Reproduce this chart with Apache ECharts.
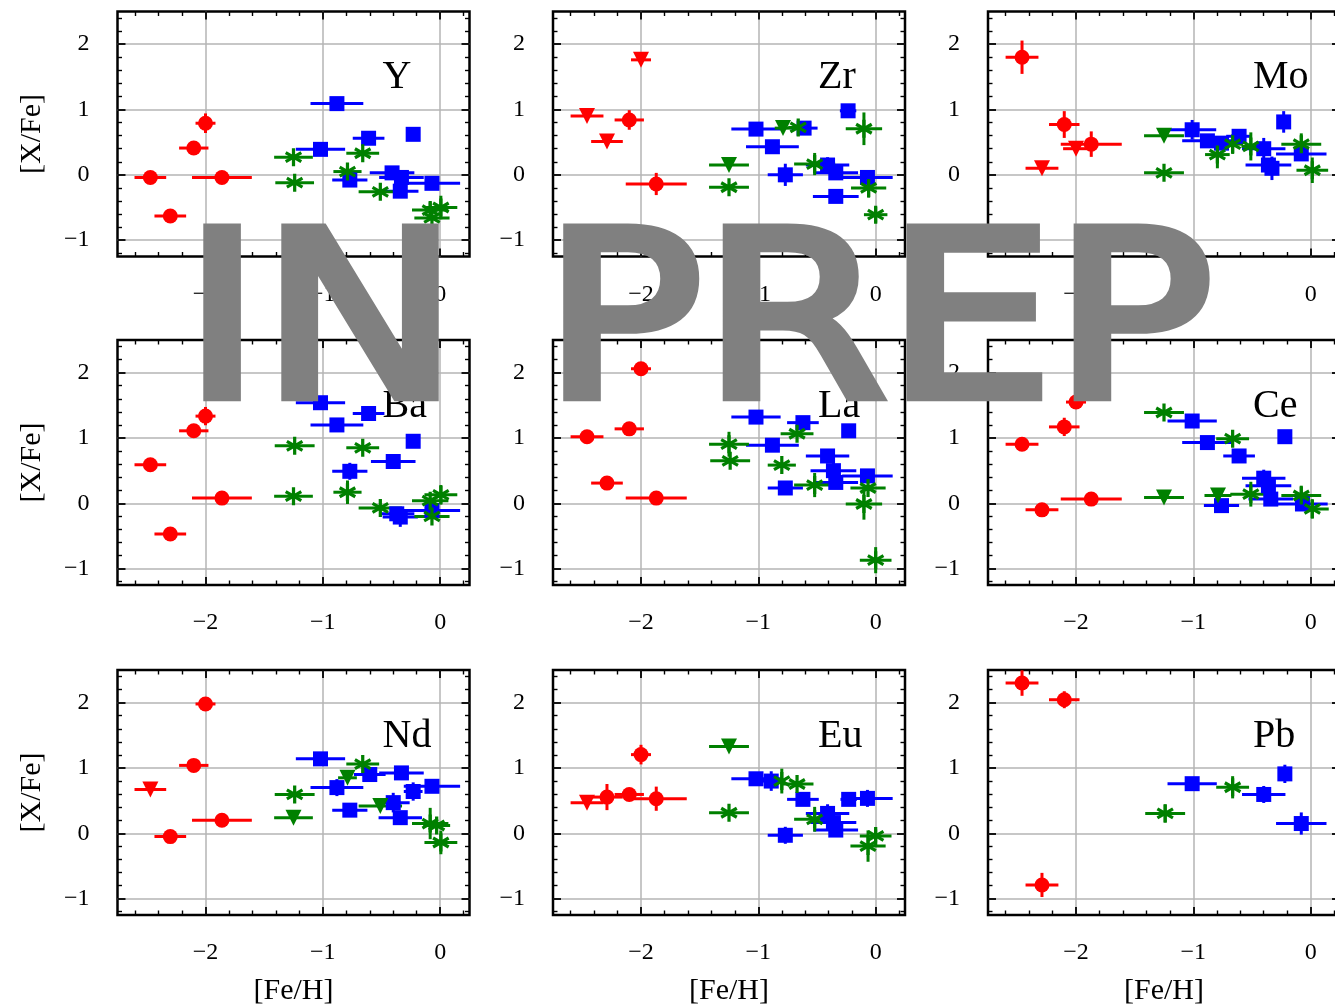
<!DOCTYPE html>
<html><head><meta charset="utf-8">
<script src="https://cdn.jsdelivr.net/npm/echarts@6/dist/echarts.min.js"></script>
<style>html,body{margin:0;padding:0;background:#fff}#c{width:1335px;height:1007px}</style>
</head><body><div id="c"></div>
<script>
// each point: [ [Fe/H], [X/Fe], err[Fe/H], err[X/Fe] ]
const Y_red = [[-2.47,-0.04,0.135,0],[-2.30,-0.63,0.135,0],[-2.10,0.41,0.125,0],[-2.00,0.79,0.085,0.15],[-1.86,-0.04,0.255,0]];
const Y_blue = [[-0.88,1.09,0.225,0],[-1.02,0.39,0.21,0],[-0.61,0.56,0.135,0],[-0.23,0.62,0.04,0],[-0.77,-0.08,0.15,0],[-0.41,0.03,0.19,0],[-0.33,-0.04,0.19,0],[-0.34,-0.25,0.155,0],[-0.07,-0.13,0.24,0]];
const Y_green = [[-1.25,0.27,0.165,0],[-1.24,-0.12,0.165,0],[-0.66,0.33,0.14,0],[-0.79,0.05,0.12,0],[-0.51,-0.26,0.185,0],[-0.085,-0.54,0.155,0.12],[0.006,-0.50,0.14,0.18],[-0.07,-0.66,0.15,0]];

const Zr_red = [[-2.10,0.84,0.125,0.15],[-1.87,-0.14,0.26,0.17]];
const Zr_redTri = [[-2.00,1.76,0.085,0],[-2.46,0.90,0.14,0],[-2.29,0.51,0.135,0]];
const Zr_blue = [[-0.235,0.98,0.07,0],[-1.02,0.70,0.21,0],[-0.88,0.43,0.225,0],[-0.61,0.715,0.115,0],[-0.77,0.0,0.15,0.17],[-0.41,0.15,0.185,0.12],[-0.34,0.03,0.19,0],[-0.07,-0.04,0.215,0],[-0.34,-0.33,0.195,0]];
const Zr_green = [[-1.25,-0.19,0.17,0],[-0.66,0.725,0.085,0],[-0.52,0.165,0.175,0.17],[-0.10,0.705,0.155,0.25],[-0.06,-0.20,0.15,0.15],[0.0,-0.61,0.10,0.12]];
const Zr_greenTri = [[-1.25,0.15,0.17,0],[-0.79,0.715,0.07,0]];

const Mo_red = [[-2.46,1.80,0.14,0.255],[-2.10,0.77,0.13,0.205],[-1.87,0.47,0.26,0.195]];
const Mo_redTri = [[-2.29,0.10,0.14,0],[-2.00,0.40,0.11,0]];
const Mo_blue = [[-1.01,0.69,0.205,0.15],[-0.88,0.52,0.215,0],[-0.76,0.485,0.115,0],[-0.61,0.59,0.11,0],[-0.23,0.81,0.04,0.165],[-0.40,0.40,0.185,0.165],[-0.36,0.15,0.195,0],[-0.33,0.10,0.05,0.18],[-0.08,0.32,0.215,0]];
const Mo_green = [[-1.25,0.03,0.17,0],[-0.795,0.31,0.105,0.21],[-0.665,0.47,0.09,0.15],[-0.51,0.435,0.08,0.215],[-0.08,0.47,0.17,0.165],[0.014,0.07,0.135,0.195]];
const Mo_greenTri = [[-1.25,0.60,0.17,0]];

const Ba_red = [[-2.47,0.59,0.135,0],[-2.30,-0.47,0.135,0],[-2.10,1.11,0.125,0],[-2.00,1.335,0.085,0.14],[-1.86,0.08,0.255,0]];
const Ba_blue = [[-1.02,1.54,0.21,0],[-0.88,1.20,0.225,0],[-0.61,1.375,0.135,0],[-0.23,0.95,0.04,0],[-0.40,0.64,0.19,0],[-0.77,0.49,0.15,0.13],[-0.37,-0.16,0.15,0],[-0.34,-0.21,0.15,0.15],[-0.07,-0.11,0.24,0]];
const Ba_green = [[-1.24,0.88,0.17,0],[-0.66,0.85,0.14,0],[-1.25,0.11,0.165,0],[-0.79,0.17,0.12,0.18],[-0.51,-0.07,0.185,0],[0.006,0.13,0.14,0.15],[-0.085,0.04,0.155,0],[-0.07,-0.20,0.15,0]];

const La_red = [[-2.00,2.06,0.085,0],[-2.46,1.02,0.14,0],[-2.10,1.14,0.125,0],[-2.29,0.31,0.135,0],[-1.87,0.08,0.26,0]];
const La_blue = [[-1.02,1.32,0.21,0],[-0.62,1.235,0.135,0],[-0.23,1.11,0.04,0],[-0.88,0.89,0.225,0],[-0.41,0.725,0.185,0],[-0.36,0.50,0.195,0.12],[-0.34,0.32,0.19,0],[-0.07,0.42,0.215,0],[-0.77,0.235,0.15,0]];
const La_green = [[-1.25,0.905,0.17,0.19],[-1.24,0.65,0.17,0],[-0.67,1.065,0.14,0],[-0.80,0.585,0.12,0],[-0.52,0.28,0.175,0.185],[-0.065,0.235,0.15,0],[-0.10,-0.01,0.155,0.24],[0.0,-0.87,0.135,0.2]];

const Ce_red = [[-2.46,0.905,0.14,0],[-2.10,1.17,0.13,0.14],[-2.00,1.55,0.085,0],[-2.29,-0.10,0.14,0],[-1.87,0.065,0.26,0]];
const Ce_blue = [[-1.01,1.26,0.21,0],[-0.88,0.93,0.215,0],[-0.61,0.725,0.135,0],[-0.22,1.02,0.04,0],[-0.40,0.385,0.185,0.13],[-0.36,0.27,0.195,0],[-0.34,0.065,0.19,0],[-0.07,-0.01,0.215,0],[-0.76,-0.035,0.15,0]];
const Ce_green = [[-1.25,1.39,0.17,0],[-0.665,0.99,0.14,0],[-0.51,0.14,0.175,0.19],[-0.08,0.12,0.17,0.15],[0.014,-0.085,0.14,0.15]];
const Ce_greenTri = [[-1.25,0.09,0.17,0],[-0.79,0.12,0.115,0]];

const Nd_red = [[-2.00,1.98,0.085,0],[-2.10,1.04,0.125,0],[-2.30,-0.05,0.135,0],[-1.86,0.20,0.255,0]];
const Nd_redTri = [[-2.47,0.67,0.135,0]];
const Nd_blue = [[-1.02,1.14,0.21,0],[-0.60,0.90,0.135,0],[-0.33,0.925,0.19,0],[-0.88,0.70,0.225,0.13],[-0.23,0.64,0.08,0.14],[-0.07,0.72,0.24,0],[-0.77,0.355,0.15,0],[-0.40,0.47,0.14,0.15],[-0.34,0.24,0.185,0]];
const Nd_green = [[-1.24,0.595,0.17,0],[-0.66,1.06,0.14,0],[-0.085,0.15,0.155,0.24],[-0.03,0.12,0.115,0],[0.006,-0.14,0.14,0.18]];
const Nd_greenTri = [[-1.25,0.24,0.165,0],[-0.79,0.85,0.08,0],[-0.51,0.42,0.185,0]];

const Eu_red = [[-2.00,1.205,0.085,0.15],[-2.29,0.555,0.135,0.2],[-2.10,0.595,0.125,0],[-1.87,0.53,0.26,0.185]];
const Eu_redTri = [[-2.46,0.47,0.14,0]];
const Eu_blue = [[-1.02,0.835,0.21,0],[-0.89,0.80,0.115,0.15],[-0.62,0.52,0.135,0],[-0.23,0.52,0.07,0],[-0.07,0.535,0.215,0.13],[-0.41,0.305,0.185,0.14],[-0.36,0.165,0.195,0],[-0.34,0.05,0.19,0],[-0.77,-0.03,0.15,0.13]];
const Eu_green = [[-1.25,0.315,0.17,0],[-0.80,0.80,0.03,0.19],[-0.67,0.755,0.14,0],[-0.52,0.215,0.175,0.19],[0.0,-0.04,0.135,0.1],[-0.065,-0.195,0.15,0.24]];
const Eu_greenTri = [[-1.25,1.33,0.17,0]];

const Pb_red = [[-2.46,2.30,0.14,0.195],[-2.10,2.045,0.13,0.13],[-2.29,-0.79,0.14,0.185]];
const Pb_blue = [[-1.01,0.76,0.21,0],[-0.40,0.595,0.185,0.13],[-0.22,0.91,0.04,0.14],[-0.08,0.15,0.215,0.17]];
const Pb_green = [[-1.24,0.305,0.17,0.14],[-0.665,0.705,0.14,0.17]];

const panels = [
  {name:'Y',  red:Y_red,  redTri:[],         blue:Y_blue,  green:Y_green,  greenTri:[]},
  {name:'Zr', red:Zr_red, redTri:Zr_redTri,  blue:Zr_blue, green:Zr_green, greenTri:Zr_greenTri},
  {name:'Mo', red:Mo_red, redTri:Mo_redTri,  blue:Mo_blue, green:Mo_green, greenTri:Mo_greenTri},
  {name:'Ba', red:Ba_red, redTri:[],         blue:Ba_blue, green:Ba_green, greenTri:[]},
  {name:'La', red:La_red, redTri:[],         blue:La_blue, green:La_green, greenTri:[]},
  {name:'Ce', red:Ce_red, redTri:[],         blue:Ce_blue, green:Ce_green, greenTri:Ce_greenTri},
  {name:'Nd', red:Nd_red, redTri:Nd_redTri,  blue:Nd_blue, green:Nd_green, greenTri:Nd_greenTri},
  {name:'Eu', red:Eu_red, redTri:Eu_redTri,  blue:Eu_blue, green:Eu_green, greenTri:Eu_greenTri},
  {name:'Pb', red:Pb_red, redTri:[],         blue:Pb_blue, green:Pb_green, greenTri:[]}
];

const xMajorTicks = [-2, -1, 0];
const xMinorTicks = [-2.6,-2.4,-2.2,-1.8,-1.6,-1.4,-1.2,-0.8,-0.6,-0.4,-0.2,0.2];
const yMajorTicks = [-1, 0, 1, 2];
const yMinorTicks = [-1.2,-0.8,-0.6,-0.4,-0.2,0.2,0.4,0.6,0.8,1.2,1.4,1.6,1.8,2.2,2.4];
const xLabel = '[Fe/H]';
const yLabel = '[X/Fe]';
const watermark = 'IN PREP';

// ---- styling / layout ----
const lefts = [117.5, 553, 988], tops = [11.5, 340, 670], GW = 352, GH = 245;
const XMIN = -2.75, XMAX = 0.25, YMIN = -1.25, YMAX = 2.5;
const SERIF = '"Liberation Serif", "DejaVu Serif", serif';
const RED = '#ff0000', BLUE = '#0000ff', GREEN = '#008000';
const fmt = v => (v < 0 ? '\u2212' : '') + Math.abs(v);

function bar(a, L, w) {
  const c = Math.cos(a), s = Math.sin(a), px = -s * w, py = c * w;
  const pts = [[L*c+px, L*s+py],[L*c-px, L*s-py],[-L*c-px, -L*s-py],[-L*c+px, -L*s+py]];
  return 'M' + pts.map(q => q[0].toFixed(3) + ' ' + q[1].toFixed(3)).join(' L') + ' Z';
}
const ASTER = 'path://' + [90, 30, 150].map(d => bar(d * Math.PI / 180, 10, 1.8)).join(' ');

const grid = [], xAxis = [], yAxis = [], series = [], title = [];
const tickStyle = w => ({color:'#000', width:w});
const noLine = {show:false, onZero:false};

panels.forEach((p, i) => {
  const r = Math.floor(i / 3), c = i % 3;
  grid.push({left:lefts[c], top:tops[r], width:GW, height:GH, show:true, borderColor:'#000', borderWidth:2.5,
             backgroundColor:'transparent', containLabel:false, outerBoundsMode:'none'});
  const xb = {gridIndex:i, type:'value', min:XMIN, max:XMAX, axisLine:noLine, splitLine:{show:false}, axisLabel:{show:false}};
  const yb = {gridIndex:i, type:'value', min:YMIN, max:YMAX, axisLine:noLine, splitLine:{show:false}, axisLabel:{show:false}};
  // x axes: bottom major, bottom minor, top major, top minor
  xAxis.push(Object.assign({}, xb, {position:'bottom',
    axisTick:{show:true, inside:true, length:8, customValues:xMajorTicks, lineStyle:tickStyle(1.8)},
    axisLabel:{show:true, customValues:xMajorTicks, formatter:fmt, margin:26, color:'#000', fontSize:24, fontFamily:SERIF},
    splitLine:{show:true, lineStyle:{color:'#b4b4b4', width:1.5}},
    name: r === 2 ? xLabel : '', nameLocation:'middle', nameGap:61,
    nameTextStyle:{color:'#000', fontSize:30, fontFamily:SERIF}}));
  xAxis.push(Object.assign({}, xb, {position:'bottom',
    axisTick:{show:true, inside:true, length:4.5, customValues:xMinorTicks, lineStyle:tickStyle(1.4)}}));
  xAxis.push(Object.assign({}, xb, {position:'top',
    axisTick:{show:true, inside:true, length:8, customValues:xMajorTicks, lineStyle:tickStyle(1.8)}}));
  xAxis.push(Object.assign({}, xb, {position:'top',
    axisTick:{show:true, inside:true, length:4.5, customValues:xMinorTicks, lineStyle:tickStyle(1.4)}}));
  // y axes: left major, left minor, right major, right minor
  yAxis.push(Object.assign({}, yb, {position:'left',
    axisTick:{show:true, inside:true, length:8, customValues:yMajorTicks, lineStyle:tickStyle(1.8)},
    axisLabel:{show:true, customValues:yMajorTicks, formatter:fmt, margin:28, color:'#000', fontSize:24, fontFamily:SERIF},
    splitLine:{show:true, lineStyle:{color:'#b4b4b4', width:1.5}},
    name: c === 0 ? yLabel : '', nameLocation:'middle', nameGap:70, nameRotate:90,
    nameTextStyle:{color:'#000', fontSize:30, fontFamily:SERIF}}));
  yAxis.push(Object.assign({}, yb, {position:'left',
    axisTick:{show:true, inside:true, length:4.5, customValues:yMinorTicks, lineStyle:tickStyle(1.4)}}));
  yAxis.push(Object.assign({}, yb, {position:'right',
    axisTick:{show:true, inside:true, length:8, customValues:yMajorTicks, lineStyle:tickStyle(1.8)}}));
  yAxis.push(Object.assign({}, yb, {position:'right',
    axisTick:{show:true, inside:true, length:4.5, customValues:yMinorTicks, lineStyle:tickStyle(1.4)}}));

  title.push({text:p.name, left:lefts[c] + 265, top:tops[r] + 46, padding:0,
    textStyle:{color:'#000', fontSize:40, fontWeight:'normal', fontFamily:SERIF}});

  const ax = i * 4;
  function errBars(data, color) {
    series.push({type:'custom', xAxisIndex:ax, yAxisIndex:ax, data:data, silent:true, clip:false,
      encode:{x:0, y:1},
      renderItem:function (params, api) {
        const x = api.value(0), y = api.value(1), ex = api.value(2), ey = api.value(3);
        const ch = [];
        if (ex > 0) {
          const a = api.coord([x - ex, y]), b = api.coord([x + ex, y]);
          ch.push({type:'line', shape:{x1:a[0], y1:a[1], x2:b[0], y2:b[1]}, style:{stroke:color, lineWidth:3}});
        }
        if (ey > 0) {
          const a = api.coord([x, y - ey]), b = api.coord([x, y + ey]);
          ch.push({type:'line', shape:{x1:a[0], y1:a[1], x2:b[0], y2:b[1]}, style:{stroke:color, lineWidth:3}});
        }
        return {type:'group', children:ch};
      }});
  }
  function marks(data, color, symbol, size, rot) {
    series.push({type:'scatter', xAxisIndex:ax, yAxisIndex:ax, data:data, silent:true,
      encode:{x:0, y:1}, symbol:symbol, symbolSize:size, symbolRotate:rot || 0, symbolKeepAspect:true,
      itemStyle:{color:color, opacity:1, borderWidth:0}});
  }
  errBars(p.red, RED); marks(p.red, RED, 'circle', 15);
  if (p.redTri.length) { errBars(p.redTri, RED); marks(p.redTri, RED, 'triangle', 16, 180); }
  errBars(p.blue, BLUE); marks(p.blue, BLUE, 'rect', 15);
  errBars(p.green, GREEN); marks(p.green, GREEN, ASTER, 18);
  if (p.greenTri.length) { errBars(p.greenTri, GREEN); marks(p.greenTri, GREEN, 'triangle', 16, 180); }
});

const chart = echarts.init(document.getElementById('c'), null, {renderer:'canvas', width:1335, height:1007});
chart.setOption({
  animation:false,
  backgroundColor:'#ffffff',
  title:title, grid:grid, xAxis:xAxis, yAxis:yAxis, series:series,
  graphic:[{type:'text', x:698, y:336.5, scaleX:1.15, z:100, silent:true,
    style:{text:watermark, fill:'#808080', stroke:'#808080', lineWidth:10, lineJoin:'round',
           fontFamily:'"DejaVu Sans"', fontWeight:'normal', fontSize:230,
           textAlign:'center', textVerticalAlign:'middle'}}]
});
</script></body></html>
